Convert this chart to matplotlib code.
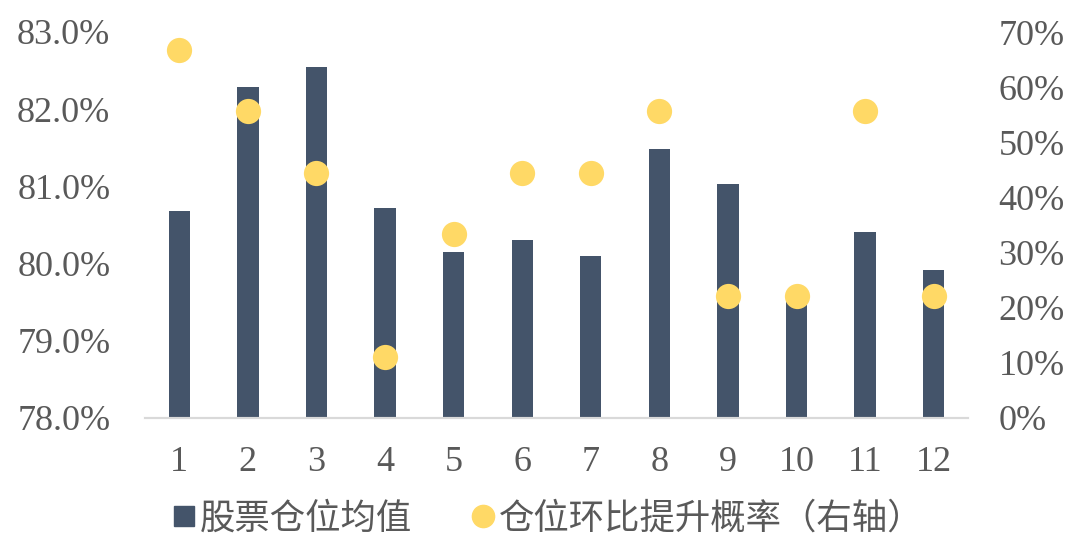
import matplotlib
matplotlib.use("Agg")
import matplotlib.pyplot as plt
from matplotlib.ticker import FuncFormatter, MultipleLocator
from matplotlib.lines import Line2D

# 数据
months = ["1", "2", "3", "4", "5", "6", "7", "8", "9", "10", "11", "12"]
avg_position = [80.68, 82.29, 82.55, 80.72, 80.15, 80.31, 80.10, 81.48, 81.03, 79.57, 80.41, 79.92]
up_prob = [66.7, 55.6, 44.4, 11.1, 33.3, 44.4, 44.4, 55.6, 22.2, 22.2, 55.6, 22.2]

bar_color = "#44546A"
dot_color = "#FFD966"
txt_color = "#595959"

plt.rcParams["font.family"] = ["Liberation Serif", "Noto Sans CJK SC"]

fig = plt.figure(figsize=(10.68, 5.43), dpi=100)
ax = fig.add_axes([145 / 1068, 1 - 418 / 543, 823 / 1068, 386 / 543])
x = list(range(len(months)))

ax.bar(x, avg_position, width=0.31, color=bar_color, bottom=0)
ax.set_ylim(78, 83)
ax.set_xlim(-0.5, 11.5)
ax.yaxis.set_major_locator(MultipleLocator(1))
ax.yaxis.set_major_formatter(FuncFormatter(lambda v, p: f"{v:.1f}%"))
ax.set_xticks(x)
ax.set_xticklabels(months)

ax2 = ax.twinx()
ax2.scatter(x, up_prob, s=330, color=dot_color, zorder=3, linewidths=0)
ax2.set_ylim(0, 70)
ax2.yaxis.set_major_locator(MultipleLocator(10))
ax2.yaxis.set_major_formatter(FuncFormatter(lambda v, p: f"{v:.0f}%"))

for a in (ax, ax2):
    for s in ("top", "left", "right"):
        a.spines[s].set_visible(False)
    a.spines["bottom"].set_color("#D9D9D9")
    a.spines["bottom"].set_linewidth(1.5)
    a.tick_params(length=0, labelsize=26, colors=txt_color)
ax.tick_params(axis="x", pad=20)
ax.tick_params(axis="y", pad=25)
ax2.tick_params(axis="y", pad=22)

handles = [
    Line2D([0], [0], marker="s", linestyle="none", markersize=14, color=bar_color),
    Line2D([0], [0], marker="o", linestyle="none", markersize=16, color=dot_color),
]
fig.legend(handles, ["股票仓位均值", "仓位环比提升概率（右轴）"], loc="center",
           bbox_to_anchor=(0.512, 0.045), ncol=2, frameon=False, handletextpad=0.05,
           columnspacing=1.6, handlelength=0.8,
           prop={"family": ["Noto Sans CJK SC"], "size": 25.5}, labelcolor=txt_color)

fig.savefig("out.png", dpi=100)
